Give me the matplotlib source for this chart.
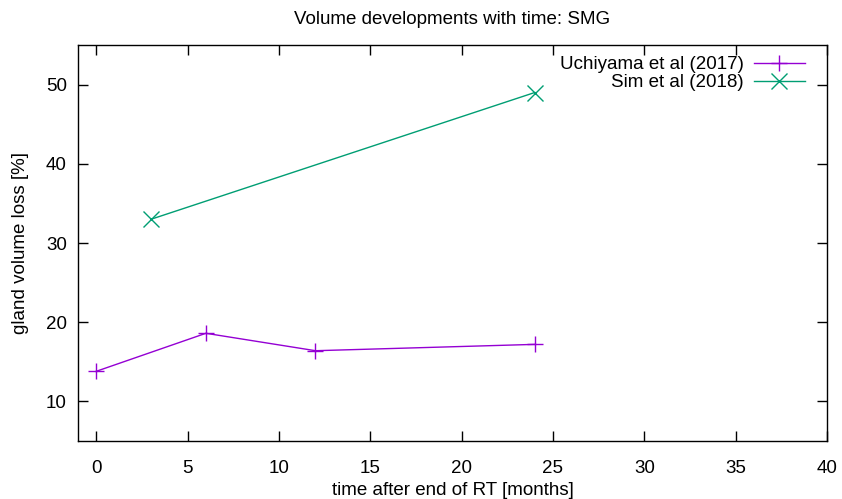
import matplotlib
matplotlib.use("Agg")
import matplotlib.pyplot as plt

plt.rcParams["font.family"] = ["Liberation Sans", "DejaVu Sans"]
plt.rcParams["font.size"] = 13.5

# Uchiyama et al (2017)
uchi_t = [0, 6, 12, 24]
uchi_loss = [13.8, 18.6, 16.4, 17.2]

# Sim et al (2018)
sim_t = [3, 24]
sim_loss = [33.0, 49.0]

x_ticks = [0, 5, 10, 15, 20, 25, 30, 35, 40]
y_ticks = [10, 20, 30, 40, 50]

fig = plt.figure(figsize=(8.42, 4.99), dpi=100)
ax = fig.add_axes([78 / 842, 1 - 441 / 499, (827 - 78) / 842, (441 - 45) / 499])

ax.plot(uchi_t, uchi_loss, color="#9400D3", lw=1.0, marker="+", ms=11, mew=1.0,
        label="Uchiyama et al (2017)")
ax.plot(sim_t, sim_loss, color="#009E73", lw=1.0, marker="x", ms=11, mew=1.0,
        label="Sim et al (2018)")

ax.set_xlim(-1, 40)
ax.set_ylim(5, 55)
ax.set_xticks(x_ticks)
ax.set_yticks(y_ticks)
ax.tick_params(direction="in", top=True, right=True, length=7, width=1)
ax.tick_params(axis="x", pad=14)
ax.tick_params(axis="y", pad=8)
for s in ax.spines.values():
    s.set_linewidth(1.0)

ax.set_xlabel("time after end of RT [months]", labelpad=3)
ax.set_ylabel("gland volume loss [%]", labelpad=12)
ax.set_title("Volume developments with time: SMG", pad=15, fontsize=13.5)

ax.legend(loc="upper right", frameon=False, markerfirst=False, handlelength=2.7,
          handletextpad=0.55, labelspacing=0.05, borderaxespad=0.2,
          bbox_to_anchor=(0.985, 1.0))

fig.savefig("out.png", dpi=100)
